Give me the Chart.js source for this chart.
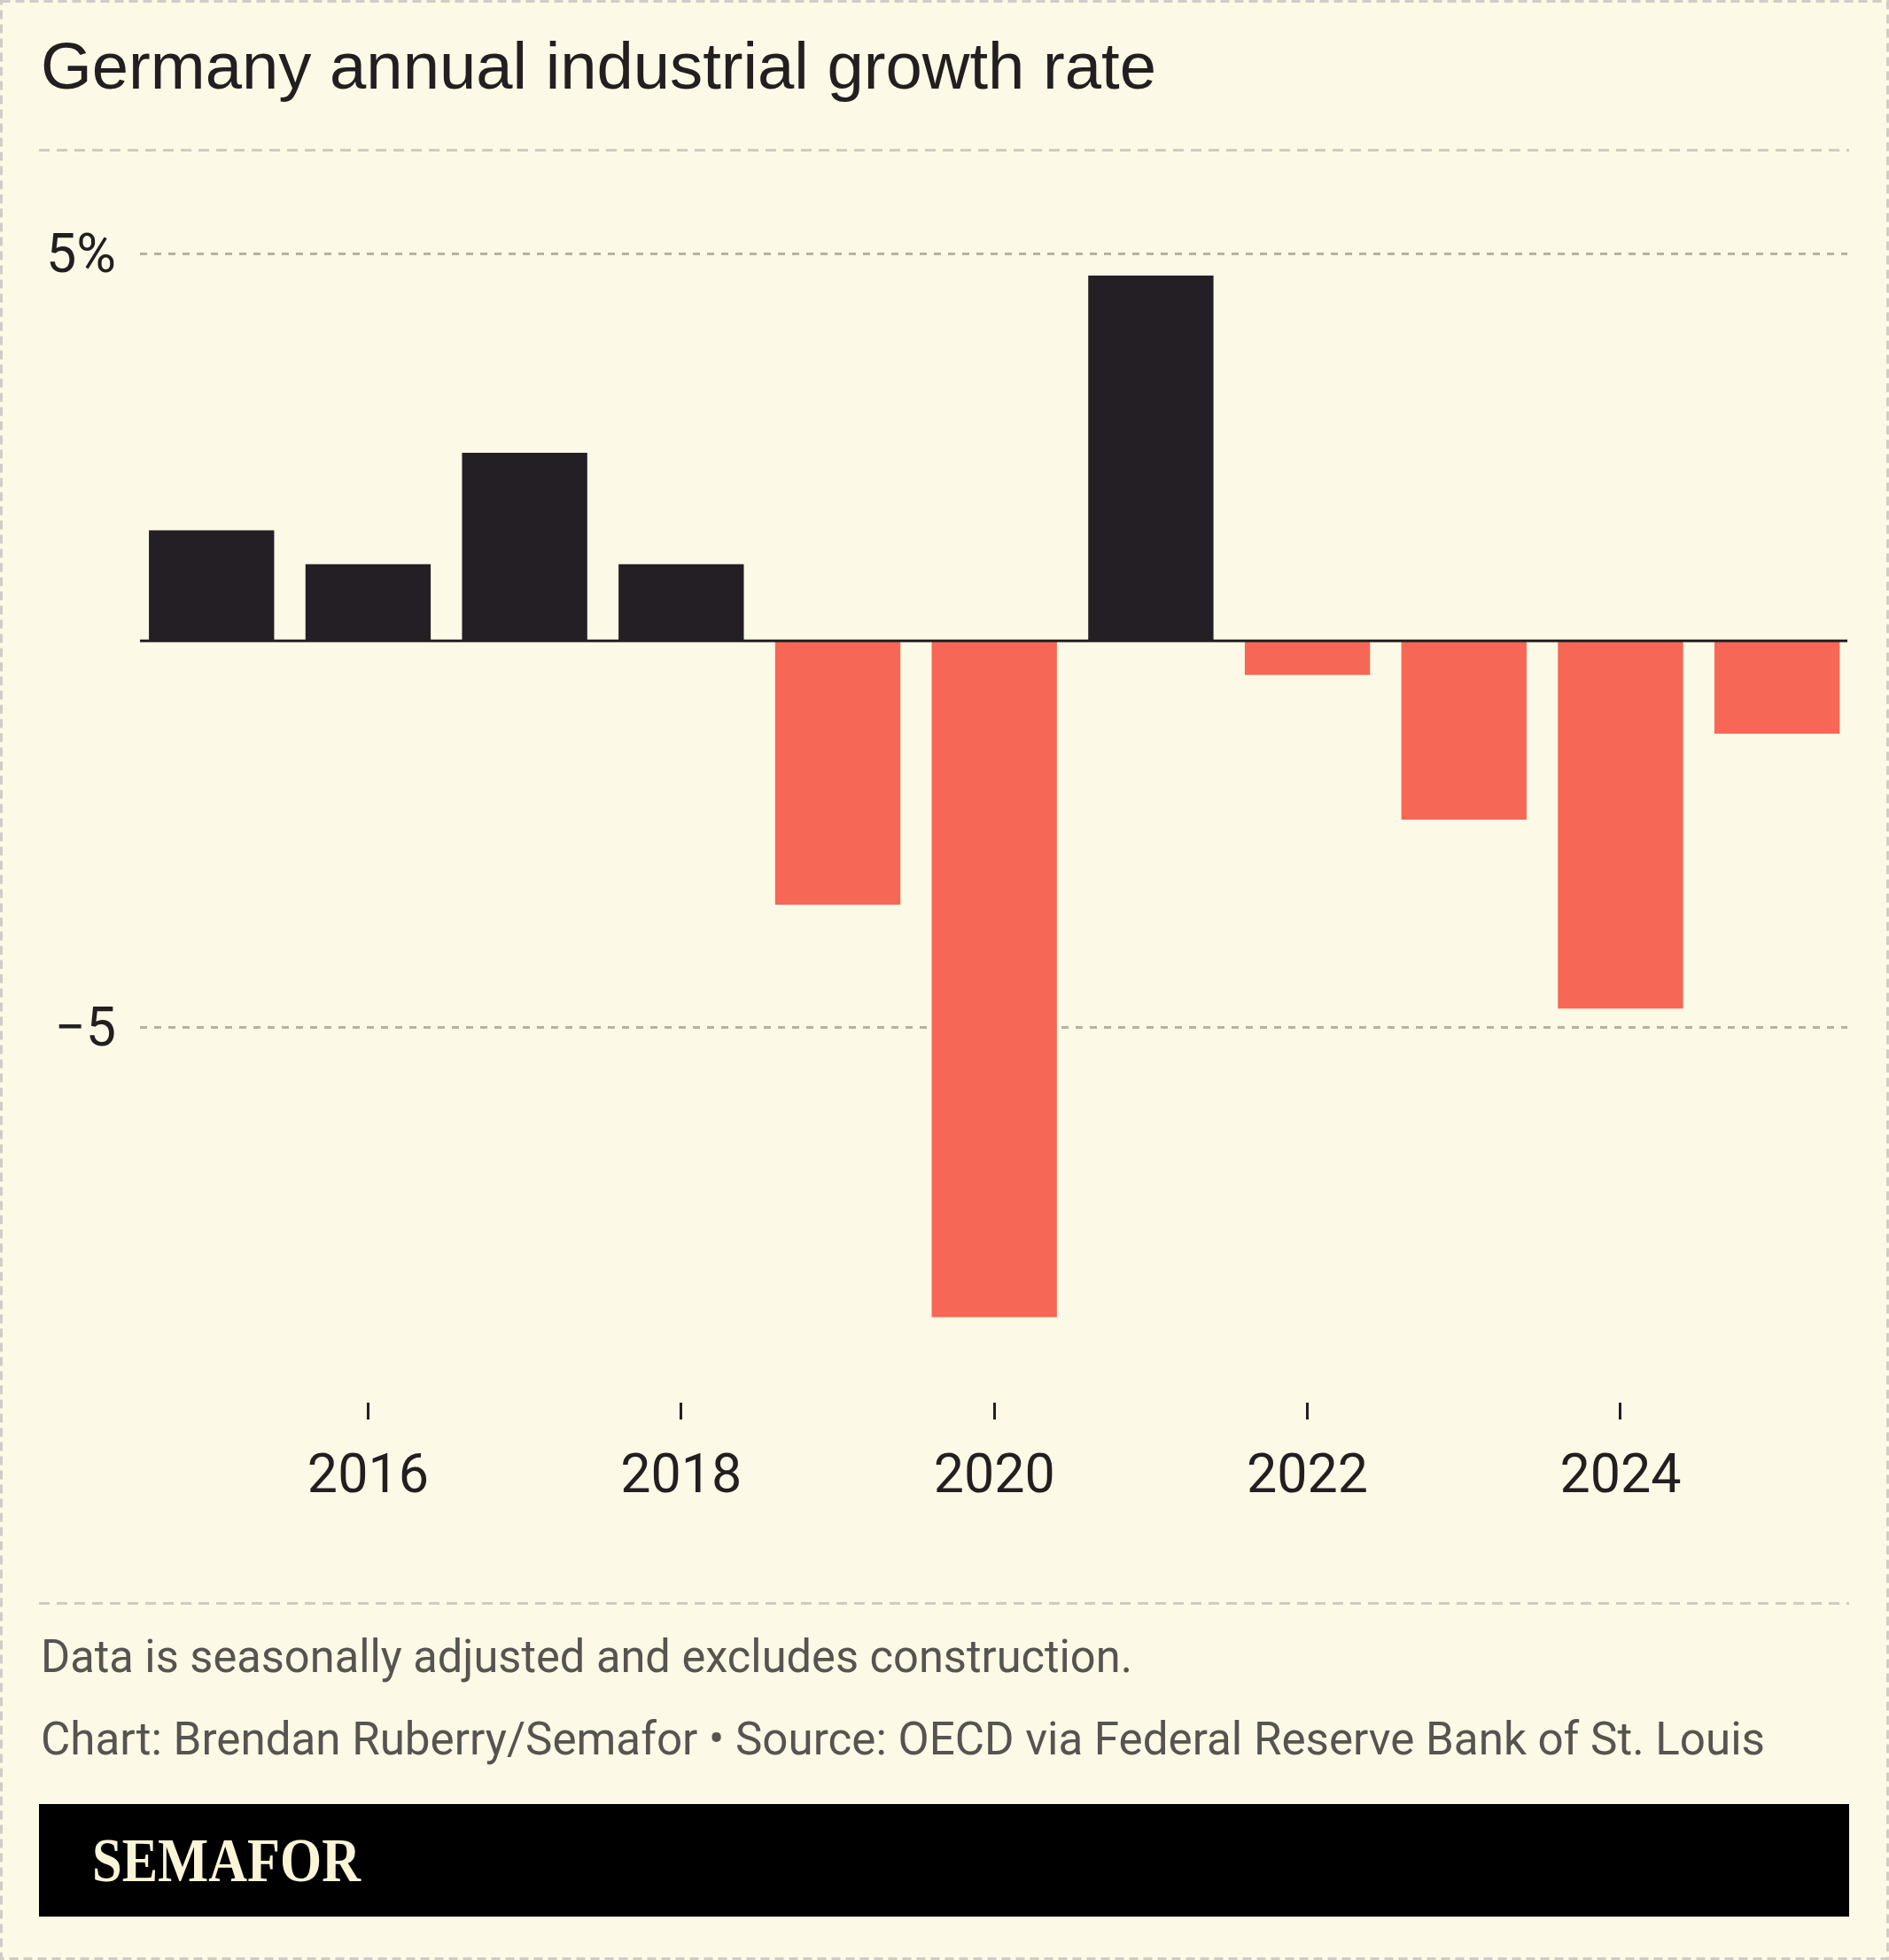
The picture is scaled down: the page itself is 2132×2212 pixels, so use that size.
<!DOCTYPE html>
<html>
<head>
<meta charset="utf-8">
<script src="https://cdn.jsdelivr.net/npm/chart.js@4.4.1/dist/chart.umd.min.js"></script>
<style>
  html, body { margin: 0; padding: 0; background: #fcf9e6; }
  #page { position: relative; width: 2132px; height: 2212px; overflow: hidden; }
  #frame { position: absolute; left: 0; top: 0; }
  #chart { position: absolute; left: 0; top: 170px; }
</style>
</head>
<body>
<div id="page">
  <svg id="frame" width="2132" height="2212" xmlns="http://www.w3.org/2000/svg">
    <rect x="1.5" y="1.5" width="2129" height="2209" fill="none" stroke="#cfcdc5" stroke-width="3" stroke-dasharray="10 6"/>
    <text x="46" y="100" font-family="Liberation Sans, Arial, sans-serif" font-size="74" fill="#231f20"
          textLength="1259" lengthAdjust="spacingAndGlyphs">Germany annual industrial growth rate</text>
    <line x1="44" y1="169.5" x2="2087" y2="169.5" stroke="#cfccc2" stroke-width="3" stroke-dasharray="12 8"/>
    <line x1="44" y1="1809.5" x2="2087" y2="1809.5" stroke="#cfccc2" stroke-width="3" stroke-dasharray="12 8"/>
    <text x="46" y="1887" font-family="Roboto, sans-serif" font-size="52" fill="#575450"
          textLength="1232" lengthAdjust="spacingAndGlyphs">Data is seasonally adjusted and excludes construction.</text>
    <text x="46" y="1980" font-family="Roboto, sans-serif" font-size="52" fill="#575450"
          textLength="1946" lengthAdjust="spacingAndGlyphs">Chart: Brendan Ruberry/Semafor • Source: OECD via Federal Reserve Bank of St. Louis</text>
    <rect x="44" y="2036" width="2043" height="127" fill="#000000"/>
    <text x="104" y="2123" font-family="Liberation Serif, serif" font-weight="bold" font-size="70" fill="#fbf5d8"
          textLength="303" lengthAdjust="spacingAndGlyphs">SEMAFOR</text>
  </svg>
  <canvas id="chart" width="2132" height="1610"></canvas>
</div>
<script>
const years = [2015, 2016, 2017, 2018, 2019, 2020, 2021, 2022, 2023, 2024, 2025];
const growth = [1.43, 0.99, 2.43, 0.99, -3.41, -8.74, 4.72, -0.44, -2.31, -4.75, -1.2];
const yTickValues = [-5, 5];
const xTickYears = [2016, 2018, 2020, 2022, 2024];

const ink = "#231f20";
const posColor = "#241f25";
const negColor = "#f76756";
const tickFont = { family: "Roboto", size: 61, lineHeight: 1.2 };

// solid line at 0, drawn over the bars
const zeroLine = {
    id: "zeroLine",
    afterDatasetsDraw(chart) {
        const { ctx, chartArea, scales } = chart;
        const y = scales.y.getPixelForValue(0);
        ctx.save();
        ctx.strokeStyle = ink;
        ctx.lineWidth = 3;
        ctx.beginPath();
        ctx.moveTo(chartArea.left, y);
        ctx.lineTo(chartArea.right, y);
        ctx.stroke();
        ctx.restore();
    },
};

new Chart(document.getElementById("chart"), {
    type: "bar",
    data: {
        datasets: [
            {
                data: years.map((yr, i) => ({ x: yr, y: growth[i] })),
                backgroundColor: growth.map((v) => (v >= 0 ? posColor : negColor)),
                borderWidth: 0,
                categoryPercentage: 0.8,
                barPercentage: 1,
            },
        ],
    },
    options: {
        responsive: false,
        animation: false,
        devicePixelRatio: 1,
        layout: { padding: { top: 29.3, right: 47, bottom: 0, left: 0 } },
        plugins: {
            legend: { display: false },
            tooltip: { enabled: false },
        },
        scales: {
            x: {
                type: "linear",
                min: 2014.543,
                max: 2025.449,
                offset: false,
                afterBuildTicks: (scale) => {
                    scale.ticks = xTickYears.map((v) => ({ value: v }));
                },
                afterFit: (scale) => {
                    scale.height = 197;
                    scale.paddingLeft = 0;
                    scale.paddingRight = 0;
                },
                grid: {
                    offset: false,
                    drawOnChartArea: false,
                    drawTicks: true,
                    tickLength: 19,
                    tickColor: ink,
                    tickWidth: 3,
                },
                border: { display: false },
                ticks: {
                    font: tickFont,
                    color: ink,
                    padding: 30,
                    maxRotation: 0,
                    callback: (v) => String(v),
                },
            },
            y: {
                min: -9.844,
                max: 6,
                afterBuildTicks: (scale) => {
                    scale.ticks = yTickValues.map((v) => ({ value: v }));
                },
                afterFit: (scale) => {
                    scale.width = 158;
                    // keep label overhang from pushing the chart area
                    scale.paddingTop = 0;
                    scale.paddingBottom = 0;
                },
                grid: {
                    color: "#b4b3a4",
                    lineWidth: 3,
                    drawTicks: false,
                },
                border: { display: false, dash: [8, 8] },
                ticks: {
                    font: tickFont,
                    color: ink,
                    padding: 27,
                    labelOffset: 5,
                    callback: (v) => (v > 0 ? v + "%" : "\u2212" + Math.abs(v)),
                },
            },
        },
    },
    plugins: [zeroLine],
});
</script>
</body>
</html>
